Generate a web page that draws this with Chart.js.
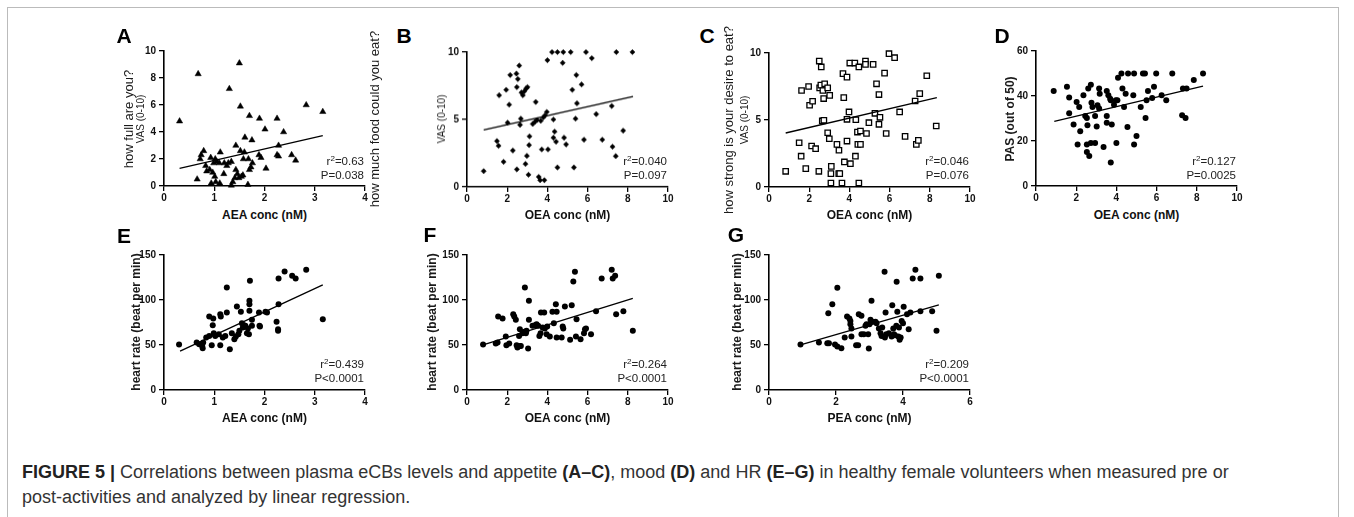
<!DOCTYPE html>
<html><head><meta charset="utf-8">
<script src="https://cdn.jsdelivr.net/npm/chart.js@4.4.0/dist/chart.umd.min.js"></script>
<style>
html,body{margin:0;padding:0;background:#fff;width:1354px;height:517px;overflow:hidden;font-family:"Liberation Sans",Arial,sans-serif;}
#frame{position:absolute;left:7px;top:7px;width:1330px;height:600px;border:1px solid #bbb;}
canvas{position:absolute;}
.t{position:absolute;white-space:nowrap;line-height:1;color:#111;}
.c{transform:translate(-50%,-50%);}
.r{transform:translate(-50%,-50%) rotate(-90deg);}
.letter{font-weight:bold;font-size:21px;color:#000;}
.ann{font-size:11.5px;text-align:right;color:#222;transform:translateY(-50%);}
.ann sup{font-size:70%;line-height:0;vertical-align:0.5em;}
.xt{font-weight:bold;font-size:12px;}
#cap{position:absolute;left:22px;top:459.5px;font-size:18px;line-height:25px;color:#333;white-space:nowrap;}
#cap b{color:#222;}
</style></head><body>
<div id="frame"></div>
<div id="cap"><b>FIGURE 5 |</b> Correlations between plasma eCBs levels and appetite <b>(A–C)</b>, mood <b>(D)</b> and HR <b>(E–G)</b> in healthy female volunteers when measured pre or<br>post-activities and analyzed by linear regression.</div>
<script>
// ---- data ----
const aX=[0.31,0.68,1.50,1.30,1.52,1.70,1.90,2.25,2.83,3.16,2.01,2.38,1.61,1.75,1.43,2.28,1.52,1.60,0.79,0.74,0.72,0.93,1.02,1.12,1.05,1.10,0.99,1.20,1.28,1.34,0.83,1.25,1.58,1.68,1.76,1.73,1.70,1.89,1.93,2.25,2.28,2.54,2.62,2.03,0.66,0.85,0.91,0.97,1.01,1.03,0.94,1.11,1.19,1.37,1.41,1.46,1.49,1.54,1.57,1.67,1.43,1.34];
const aY=[4.8,8.3,9.1,7.2,5.9,5.2,5.0,5.0,6.0,5.5,4.2,4.0,3.6,3.4,3.0,3.0,2.6,2.5,2.6,2.3,2.0,2.1,2.0,2.5,1.8,1.7,1.7,1.7,1.7,1.8,1.5,1.5,2.0,2.0,1.7,1.4,1.2,2.3,2.1,2.3,2.2,2.3,1.9,1.3,0.5,1.1,1.2,1.0,0.7,0.3,0.2,0.2,0.9,0.3,0.6,0.9,0.6,0.7,0.8,0.1,1.2,0.05];
const aFit=[[0.31,1.31],[3.16,3.74]];

const bX=[0.83,1.49,1.57,1.60,1.82,1.95,2.02,2.10,2.15,2.28,2.46,2.48,2.48,2.53,2.60,2.64,2.68,2.71,2.78,2.86,2.94,3.01,2.91,2.98,3.06,3.11,3.09,3.42,3.27,3.39,3.49,3.57,3.64,3.67,3.72,3.85,3.80,3.88,3.97,4.03,4.00,4.23,4.30,4.36,4.43,4.30,4.50,4.50,4.76,4.79,4.83,4.93,5.16,5.24,5.32,5.40,5.44,5.47,5.70,5.82,5.92,6.21,6.43,6.73,7.43,8.23,7.2,7.77,7.24,7.4];
const bY=[1.17,3.4,3.05,6.8,1.86,7.2,4.76,6.1,8.3,2.7,8.4,1.3,7.4,8.0,9.0,4.6,5.06,7.0,6.8,7.1,7.3,7.4,1.7,2.3,0.9,3.75,3.1,6.3,4.67,4.84,4.96,0.74,0.5,4.9,2.78,0.5,5.16,5.3,5.56,2.78,9.4,10,3.65,4.1,3.35,5.0,10,1.44,9.2,10,3.65,3.15,10,7.2,1.44,5.06,8.3,6.2,7.6,3.5,10,9.55,5.4,3.5,10,10,6.0,4.17,2.98,2.28];
const bFit=[[0.83,4.22],[8.26,6.70]];

const cX=[0.83,1.5,1.6,1.62,1.83,1.97,2.02,2.12,2.17,2.32,2.48,2.5,2.6,2.52,2.58,2.68,2.72,2.65,2.73,2.77,2.92,3.02,2.92,3.0,3.1,3.08,3.08,3.38,3.47,3.52,3.48,3.63,3.72,3.68,3.88,3.75,3.88,3.98,3.88,4.05,4.02,4.27,4.32,4.4,4.42,4.3,4.47,4.47,4.8,4.8,5.18,5.97,6.25,5.75,5.35,5.47,7.85,7.5,7.27,6.5,5.27,5.52,4.97,5.47,4.55,4.85,5.83,6.77,7.33,7.43,8.32,4.55];
const cY=[1.17,3.3,2.3,7.2,1.37,7.5,6.1,3.06,6.4,2.86,1.17,9.4,8.96,7.4,7.6,7.2,6.6,4.93,4.98,7.7,7.4,6.84,4.05,3.6,1.54,1.0,0.3,3.18,1.0,1.0,2.74,0.3,6.67,8.46,8.2,1.87,3.43,5.6,5.05,1.74,9.25,9.25,5.02,4.1,3.18,2.3,0.3,8.96,9.4,9.15,9.15,9.95,9.65,8.5,7.7,6.9,8.3,6.97,6.42,5.6,5.5,5.2,4.8,4.68,4.18,3.99,3.99,3.78,3.18,3.48,4.55,3.18];
const cFit=[[0.83,4.03],[8.35,6.67]];

const dX=[0.88,1.54,1.65,1.65,1.87,2.02,2.15,2.2,2.07,2.36,2.45,2.53,2.56,2.53,2.60,2.73,2.76,2.81,2.73,2.53,2.65,2.94,2.94,3.06,3.14,3.17,3.14,3.02,3.36,3.52,3.52,3.52,3.60,3.69,3.72,3.77,3.72,3.88,3.97,4.05,4.0,4.08,4.25,4.3,4.38,4.46,4.55,4.58,4.84,4.88,4.88,5.0,5.21,5.32,5.42,5.45,5.5,5.57,5.78,5.87,5.98,6.25,6.48,6.78,7.27,7.44,7.31,7.49,7.85,8.31];
const dY=[42.2,44.1,39.3,32.3,27.3,37.3,35.1,24.3,18.4,40.3,31.1,30.2,27.0,18.5,43.3,45.0,37.0,35.1,19.1,15.1,13.3,19.1,31.1,35.9,43.3,41.0,34.4,26.4,17.3,31.1,28.1,42.2,40.3,38.8,38.1,27.3,10.4,36.1,38.1,38.1,19.1,48.1,50,43.3,35.1,41.0,26.2,50,40.3,50,18.4,22.2,35.1,50,50,30.2,38.1,42.2,39.1,44.1,50,40.3,38.1,50,31.4,30.2,43.3,43.3,47.1,50];
const dFit=[[0.91,28.7],[8.31,44.4]];

const eX=[0.30,0.65,0.70,0.76,0.78,0.77,0.84,0.90,0.98,0.97,0.95,0.90,0.99,1.02,1.09,1.12,1.12,1.13,1.17,1.22,1.25,1.25,1.31,1.35,1.40,1.43,1.45,1.48,1.50,1.53,1.55,1.57,1.59,1.62,1.65,1.67,1.69,1.70,1.70,1.70,1.71,1.75,1.75,1.89,1.90,1.91,2.02,2.05,2.24,2.27,2.27,2.28,2.28,2.40,2.55,2.62,2.83,3.16];
const eY=[50.5,52.7,50.9,49.0,52.7,46.4,58.3,81.7,79.4,72.0,49.7,60.1,63.1,60.1,62.0,49.7,84.3,81.7,58.3,60.1,86.1,114.0,45.3,63.1,56.4,59.4,92.8,62.0,65.7,86.9,74.2,69.4,72.0,71.3,63.1,68.3,62.0,99.1,95.4,88.0,121.4,78.0,71.3,86.1,71.3,70.5,86.9,86.1,75.7,67.6,65.7,95.4,124.0,131.8,127.0,124.0,133.6,78.7];
const eFit=[[0.32,43.1],[3.16,116.9]];

const fX=[0.80,1.43,1.52,1.55,1.77,1.93,1.96,2.10,2.30,2.35,2.43,2.47,2.51,2.59,2.63,2.63,2.68,2.76,2.85,2.88,2.93,2.96,3.04,3.08,3.08,3.26,3.38,3.46,3.54,3.60,3.66,3.68,3.84,3.76,3.87,3.96,3.99,4.12,4.25,4.32,4.42,4.46,4.46,4.71,4.76,4.79,4.87,5.13,5.21,5.29,5.37,5.42,5.45,5.65,5.82,5.87,5.92,6.17,6.42,6.70,7.20,7.25,7.37,7.42,7.78,8.25];
const fY=[50.5,51.6,52.7,81.7,79.4,59.4,49.7,51.6,84.3,81.7,78.0,49.7,47.1,60.1,67.6,49.0,49.0,63.1,64.6,114.0,63.1,65.7,46.0,78.0,99.1,71.3,72.0,73.1,71.3,60.1,63.1,86.1,86.1,69.4,68.3,62.0,70.5,59.4,86.9,74.2,95.4,86.9,58.3,58.3,70.5,68.3,92.8,55.7,94.3,120.6,131.4,59.4,78.7,56.4,63.1,67.6,68.3,62.0,87.6,124.0,133.6,124.0,127.0,84.3,87.6,65.7];
const fFit=[[0.80,50.1],[8.25,101.7]];

const gX=[0.94,1.49,1.74,1.79,1.97,2.04,2.16,1.77,1.89,2.04,2.26,2.33,2.40,2.43,2.43,2.46,2.46,2.60,2.66,2.68,2.76,2.76,2.83,2.88,2.91,2.96,2.98,3.00,3.03,3.06,3.08,3.18,3.21,3.28,3.33,3.38,3.36,3.45,3.46,3.48,3.50,3.58,3.66,3.68,3.71,3.73,3.76,3.80,3.81,3.83,3.86,3.88,3.90,3.93,3.96,4.00,4.02,4.12,4.17,4.22,4.29,4.37,4.52,4.52,4.87,5.00,5.07];
const gY=[50.5,52.7,52.0,52.0,50.5,48.3,46.4,85.4,95.4,113.6,58.3,81.7,79.4,76.8,73.1,68.3,59.4,49.7,49.7,84.3,82.4,62.0,62.0,71.3,73.1,62.0,46.0,73.1,78.0,99.1,75.7,75.7,74.2,68.3,63.1,69.4,60.1,131.4,58.3,86.1,62.0,63.1,59.4,94.3,68.3,62.0,60.9,71.3,120.3,86.9,59.4,69.4,55.7,58.3,76.8,74.2,92.4,84.3,67.6,86.1,124.0,133.6,124.0,87.6,87.6,65.7,127.0];
const gFit=[[0.94,50.1],[5.07,94.7]];

const xTicksA=[0,1,2,3,4], xTicksB=[0,2,4,6,8,10], xTicksG=[0,2,4,6];
const yTicksA=[0,2,4,6,8,10], yTicksB=[0,5,10], yTicksD=[0,20,40,60], yTicksE=[0,50,100,150];

// ---- layout ----
const W=201, LPAD=45, TPAD=12, RPAD=20, BPAD=22;
const panels=[
 {id:'A',xs:aX,ys:aY,fit:aFit,xt:xTicksA,yt:yTicksA,left:164,top:51,h:135,style:'triangle',r:3.6,fill:'#000',bw:0.5,
  letter:[124,35],ytitle:[['how full are you?',128,'13px',''],['VAS (0-10)',141,'10px','']],xtitle:'AEA conc (nM)',ann:['0.63','P=0.038']},
 {id:'B',xs:bX,ys:bY,fit:bFit,xt:xTicksB,yt:yTicksB,left:467,top:52,h:134.5,style:'rectRot',r:2.6,fill:'#000',bw:0.5,
  letter:[404,35],ytitle:[['how much food could you eat?',374,'13px',''],['VAS (0-10)',442,'10px','']],xtitle:'OEA conc (nM)',ann:['0.040','P=0.097']},
 {id:'C',xs:cX,ys:cY,fit:cFit,xt:xTicksB,yt:yTicksB,left:769,top:52.5,h:134,style:'rect',r:3.8,fill:'#fff',bw:1.3,
  letter:[707,35],ytitle:[['how strong is your desire to eat?',728,'13px',''],['VAS (0-10)',745,'10px','']],xtitle:'OEA conc (nM)',ann:['0.046','P=0.076']},
 {id:'D',xs:dX,ys:dY,fit:dFit,xt:xTicksB,yt:yTicksD,left:1036,top:51,h:135,style:'circle',r:3,fill:'#000',bw:0,
  letter:[1002,35],ytitle:[['PAS (out of 50)',1010,'12px','bold']],xtitle:'OEA conc (nM)',ann:['0.127','P=0.0025']},
 {id:'E',xs:eX,ys:eY,fit:eFit,xt:xTicksA,yt:yTicksE,left:164,top:254.5,h:135,style:'circle',r:3,fill:'#000',bw:0,
  letter:[124,234.5],ytitle:[['heart rate (beat per min)',136,'12px','bold']],xtitle:'AEA conc (nM)',ann:['0.439','P<0.0001']},
 {id:'F',xs:fX,ys:fY,fit:fFit,xt:xTicksB,yt:yTicksE,left:467,top:254.5,h:135,style:'circle',r:3,fill:'#000',bw:0,
  letter:[430,234],ytitle:[['heart rate (beat per min)',432,'12px','bold']],xtitle:'OEA conc (nM)',ann:['0.264','P<0.0001']},
 {id:'G',xs:gX,ys:gY,fit:gFit,xt:xTicksG,yt:yTicksE,left:769,top:254.5,h:135,style:'circle',r:3,fill:'#000',bw:0,
  letter:[736,233.5],ytitle:[['heart rate (beat per min)',737,'12px','bold']],xtitle:'PEA conc (nM)',ann:['0.209','P<0.0001']}
];

function addText(html,cls,x,y,extra){
  const d=document.createElement('div');
  d.className='t '+cls; d.innerHTML=html;
  d.style.left=x+'px'; d.style.top=y+'px';
  if(extra) Object.assign(d.style,extra);
  document.body.appendChild(d); return d;
}

const tickFont={family:'"Liberation Sans", Arial, sans-serif',weight:'bold',size:10};

panels.forEach(p=>{
  const cv=document.createElement('canvas');
  const cw=LPAD+W+RPAD, ch=TPAD+p.h+BPAD;
  cv.width=cw; cv.height=ch;
  cv.style.left=(p.left-LPAD)+'px'; cv.style.top=(p.top-TPAD)+'px';
  cv.style.width=cw+'px'; cv.style.height=ch+'px';
  document.body.appendChild(cv);
  const pts=p.xs.map((x,i)=>({x:x,y:p.ys[i]}));
  const fitPts=p.fit.map(a=>({x:a[0],y:a[1]}));
  const xmax=p.xt[p.xt.length-1], ymax=p.yt[p.yt.length-1];
  new Chart(cv,{
    type:'scatter',
    data:{datasets:[
      {data:pts,pointStyle:p.style,pointRadius:p.r,pointBackgroundColor:p.fill,pointBorderColor:'#000',pointBorderWidth:p.bw,clip:false,order:2},
      {data:fitPts,showLine:true,borderColor:'#000',backgroundColor:'#000',borderWidth:1.3,pointRadius:0,clip:false,order:1}
    ]},
    options:{
      responsive:false,animation:false,devicePixelRatio:1,
      layout:{padding:{top:TPAD,right:RPAD,left:0,bottom:0}},
      plugins:{legend:{display:false},tooltip:{enabled:false}},
      scales:{
        x:{type:'linear',min:0,max:xmax,afterFit:s=>{s.height=BPAD;},
           afterBuildTicks:s=>{s.ticks=p.xt.map(v=>({value:v}));},
           border:{display:true,color:'#000',width:1.6},
           grid:{drawOnChartArea:false,drawTicks:true,tickLength:5,color:'#000',lineWidth:1.3},
           ticks:{color:'#111',font:tickFont,padding:1,maxRotation:0,autoSkip:false}},
        y:{type:'linear',min:0,max:ymax,afterFit:s=>{s.width=LPAD;},
           afterBuildTicks:s=>{s.ticks=p.yt.map(v=>({value:v}));},
           border:{display:true,color:'#000',width:1.6},
           grid:{drawOnChartArea:false,drawTicks:true,tickLength:5,color:'#000',lineWidth:1.3},
           ticks:{color:'#111',font:tickFont,padding:3,autoSkip:false}}
      }
    }
  });
  const bottom=p.top+p.h, cx=p.left+W/2, cy=p.top+p.h/2;
  addText(p.id,'letter c',p.letter[0],p.letter[1]);
  p.ytitle.forEach(t=>addText(t[0],'r',t[1],cy,{fontSize:t[2],fontWeight:t[3]||'normal',color:'#1a1a1a'}));
  addText(p.xtitle,'xt c',cx,bottom+28.5);
  const right=1354-(p.left+W)+1;
  const a1=addText('r<sup>2</sup>=' + p.ann[0],'ann',0,bottom-24.5); a1.style.left='auto'; a1.style.right=right+'px';
  const a2=addText(p.ann[1],'ann',0,bottom-10.5); a2.style.left='auto'; a2.style.right=right+'px';
});
</script>
</body></html>
